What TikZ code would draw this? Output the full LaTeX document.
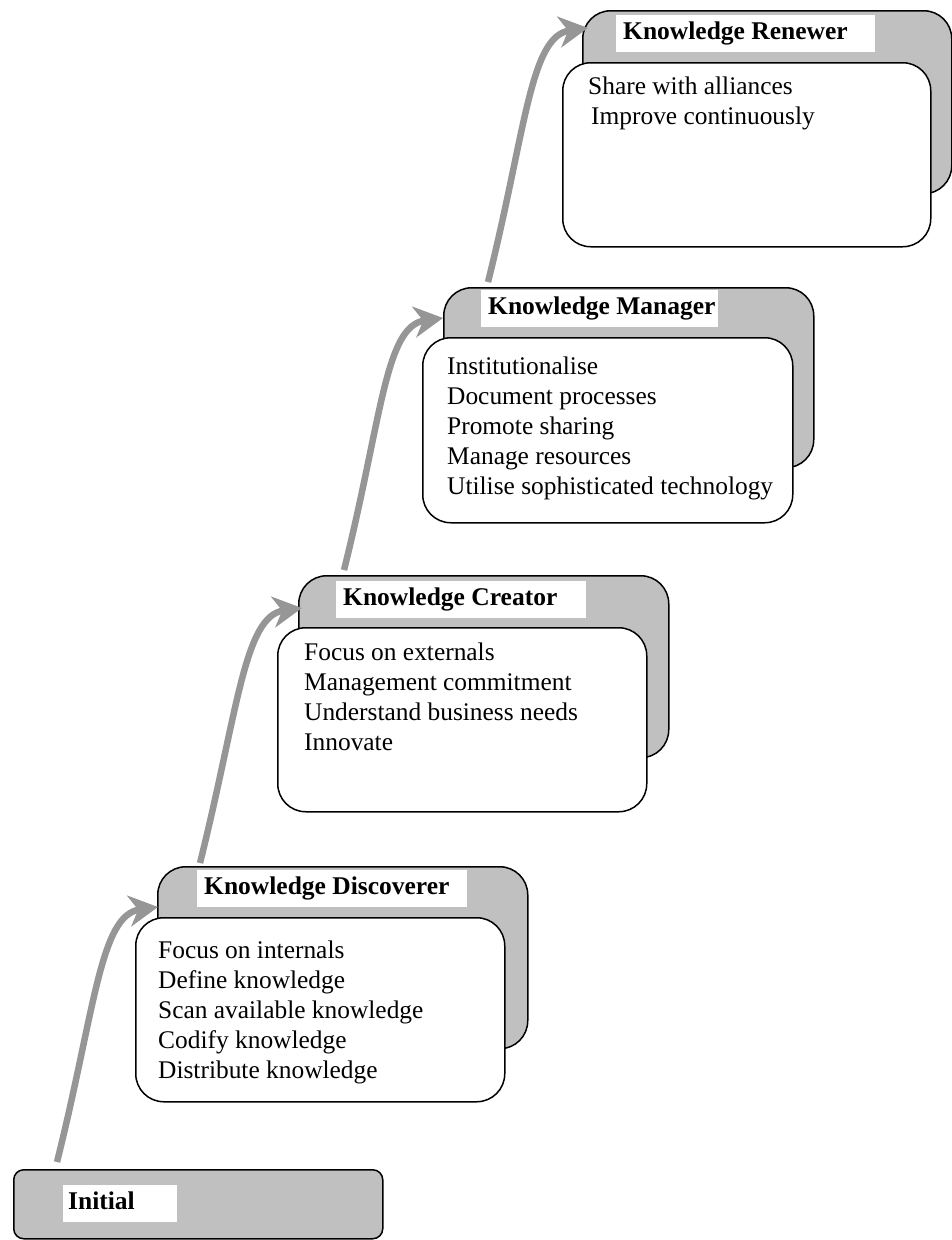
\documentclass[tikz,border=0pt]{standalone}
\usepackage{fontspec}
\setmainfont{Liberation Serif}
\usetikzlibrary{arrows.meta,calc}
\definecolor{stagegray}{RGB}{192,192,192}
\definecolor{arrowgray}{RGB}{150,150,150}
\newcommand{\stagetitle}[2]{\makebox[#1][l]{#2}}

\begin{document}
\begin{tikzpicture}[x=1pt,y=-1pt,
  backbox/.style={draw=black, line width=1.5pt, fill=stagegray,
    rounded corners=28pt, anchor=north west, inner sep=0pt,
    minimum width=370pt, minimum height=182pt},
  frontbox/.style={draw=black, line width=1.5pt, fill=white,
    rounded corners=28pt, anchor=north west, inner sep=0pt,
    minimum width=369pt, minimum height=184pt},
  initbox/.style={draw=black, line width=1.5pt, fill=stagegray,
    rounded corners=10pt, anchor=north west, inner sep=0pt,
    minimum width=369pt, minimum height=69pt},
  titlebox/.style={fill=white, anchor=north west, inner xsep=7pt,
    inner ysep=0pt, text height=24pt, text depth=13pt,
    font=\bfseries\fontsize{25.5}{30}\selectfont},
  bodytext/.style={anchor=north west, inner sep=0pt, align=left,
    font=\fontsize{25.4}{30}\selectfont},
  flow/.style={draw=arrowgray, line width=6.5pt,
    -{Stealth[length=29pt,width=31pt,inset=9pt]}}
]
\useasboundingbox (0,0) rectangle (952,1240);

% initial stage
\node[initbox] (init) at (13,1169) {};
\node[titlebox, inner xsep=5pt] (initlbl) at (63,1185) {\stagetitle{104pt}{Initial}};

% knowledge discoverer
\node[backbox] (discback) at (157,866) {};
\node[titlebox] (disclbl) at (197,870) {\stagetitle{256pt}{Knowledge Discoverer}};
\node[frontbox] (discfront) at (135,917) {};
\node[bodytext] (disctext) at (158,937) {\strut Focus on internals\\Define knowledge\\Scan available knowledge\\Codify knowledge\\Distribute knowledge};

% knowledge creator
\node[backbox] (creaback) at (298,575) {};
\node[titlebox] (crealbl) at (336,581) {\stagetitle{236pt}{Knowledge Creator}};
\node[frontbox] (creafront) at (277,627) {};
\node[bodytext] (creatext) at (304,639) {\strut Focus on externals\\Management commitment\\Understand business needs\\Innovate};

% knowledge manager
\node[backbox, minimum height=180pt] (manback) at (443,287) {};
\node[titlebox] (manlbl) at (481,290) {\stagetitle{223pt}{Knowledge Manager}};
\node[frontbox, minimum width=370pt, minimum height=185pt] (manfront) at (422,337) {};
\node[bodytext] (mantext) at (447,353) {\strut Institutionalise\\Document processes\\Promote sharing\\Manage resources\\Utilise sophisticated technology};

% knowledge renewer
\node[backbox, minimum width=369pt, minimum height=183pt] (renback) at (582,10) {};
\node[titlebox] (renlbl) at (616,15) {\stagetitle{245pt}{Knowledge Renewer}};
\node[frontbox, minimum width=368pt] (renfront) at (562,62) {};
\node[bodytext] (rentext) at (588,73) {\strut Share with alliances\\\hspace{3pt}Improve continuously};

% progression arrows
\draw[flow] ($(init.north west)+(44,-7)$) .. controls +(38,-152) and +(-58,8) .. ($(discback.north west)+(1,41)$);
\draw[flow] ($(discback.north west)+(43,-3)$) .. controls +(38,-152) and +(-58,8) .. ($(creaback.north west)+(4,33)$);
\draw[flow] ($(creaback.north west)+(46,-5)$) .. controls +(38,-152) and +(-58,8) .. ($(manback.north west)+(0,31)$);
\draw[flow] ($(manback.north west)+(45,-5)$) .. controls +(38,-152) and +(-58,8) .. ($(renback.north west)+(6,18)$);
\end{tikzpicture}
\end{document}
